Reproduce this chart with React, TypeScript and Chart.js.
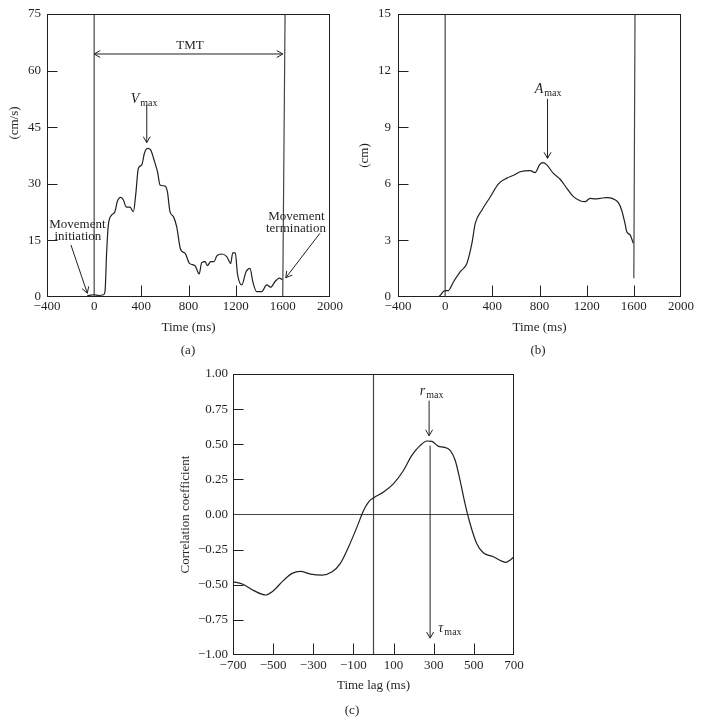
import React, { useEffect, useRef } from "react";
import { Chart, registerables } from "chart.js";

Chart.register(...registerables);

const FONT = "'Liberation Serif', 'Times New Roman', serif";
const INK = "#231f20";
const REF = "#444444";

// ---------- Panel (a): velocity (cm/s) vs time (ms) ----------
const velTime = [-60, -30, 0, 40, 80, 92, 106, 120, 148, 176, 196, 225, 248, 270, 304, 333, 352, 375, 404, 426, 454, 479, 508, 537, 559, 601, 621, 643, 672, 700, 734, 771, 808, 856, 890, 912, 941, 960, 988, 1017, 1040, 1082, 1124, 1158, 1175, 1197, 1215, 1252, 1288, 1322, 1345, 1379, 1421, 1463, 1497, 1534, 1571, 1595];
const velValue = [0.3, 0.5, 0.6, 0.4, 0.6, 1.5, 12, 19, 21.7, 22.6, 25.3, 26.4, 25.7, 23.9, 23.8, 22.6, 27, 34.1, 35, 38.1, 39.4, 39, 36.3, 33.2, 29.7, 29.4, 27.9, 22.6, 21.3, 18.6, 12.5, 11.6, 8.9, 8.3, 6.1, 9.1, 9.4, 8.3, 9.4, 9.4, 10.9, 11.4, 10.7, 8.9, 11.7, 11.7, 6.2, 3.2, 6.7, 7.6, 4.1, 1.4, 1.4, 3.2, 2.6, 4.1, 5.0, 4.6];
const timeTicks = [-400, 0, 400, 800, 1200, 1600, 2000];
const velTicks = [0, 15, 30, 45, 60, 75];
const timeInnerTicks = [400, 800, 1200];
const velInnerTicks = [15, 30, 45, 60];
const aOnsetX = [0, 0];
const aOnsetY = [0, 75];
const aEndX = [1599, 1619];
const aEndY = [0, 75];

// ---------- Panel (b): amplitude (cm) vs time (ms) ----------
const ampTime = [-60, -40, -15, 0, 28, 50, 71, 128, 184, 227, 255, 311, 382, 452, 523, 580, 636, 721, 763, 800, 828, 862, 918, 975, 1032, 1088, 1144, 1186, 1229, 1270, 1314, 1370, 1426, 1469, 1497, 1525, 1540, 1568, 1596];
const ampValue = [0, 0.1, 0.3, 0.34, 0.34, 0.55, 0.81, 1.34, 1.78, 2.85, 3.9, 4.6, 5.3, 6.0, 6.3, 6.45, 6.64, 6.7, 6.59, 7.0, 7.12, 7.0, 6.55, 6.24, 5.76, 5.32, 5.1, 5.05, 5.23, 5.2, 5.23, 5.27, 5.2, 5.0, 4.6, 3.9, 3.46, 3.29, 2.85];
const ampTicks = [0, 3, 6, 9, 12, 15];
const ampInnerTicks = [3, 6, 9, 12];
const timeInnerTicksB = [400, 800, 1200, 1600];
const bOnsetX = [0, 0];
const bOnsetY = [0, 15];
const bEndX = [1600, 1610];
const bEndY = [1.0, 15];

// ---------- Panel (c): correlation coefficient vs time lag ----------
const lagTime = [-700, -654, -596, -538, -505, -447, -405, -364, -314, -256, -206, -165, -124, -82, -49, -24, 0, 50, 100, 150, 191, 233, 266, 291, 324, 348, 382, 407, 431, 456, 481, 514, 547, 597, 639, 660, 680, 700];
const corrValue = [-0.479, -0.495, -0.542, -0.573, -0.55, -0.467, -0.419, -0.405, -0.424, -0.431, -0.408, -0.348, -0.23, -0.088, 0.03, 0.09, 0.118, 0.16, 0.22, 0.315, 0.421, 0.492, 0.523, 0.52, 0.485, 0.48, 0.457, 0.386, 0.244, 0.078, -0.064, -0.206, -0.272, -0.301, -0.332, -0.341, -0.325, -0.301];
const lagTicks = [-700, -500, -300, -100, 100, 300, 500, 700];
const corrTicks = [-1, -0.75, -0.5, -0.25, 0, 0.25, 0.5, 0.75, 1];
const lagInnerTicks = [-500, -300, -100, 100, 300, 500];
const corrInnerTicks = [-0.75, -0.5, -0.25, 0.25, 0.5, 0.75];
const cZeroLineX = [-700, 700];
const cZeroLineY = [0, 0];
const cLagZeroX = [0, 0];
const cLagZeroY = [-1, 1];

// ---------- Annotations (data coordinates) ----------
type TextItem = { x: number; y: number; text: string; sub?: string; italic?: boolean; size?: number };
type ArrowItem = { x1: number; y1: number; x2: number; y2: number; both?: boolean };

const aTexts: TextItem[] = [
  { x: 813, y: 66.8, text: "TMT" },
  { x: 423, y: 52.7, text: "V", sub: "max", italic: true, size: 14 },
  { x: -142, y: 19.5, text: "Movement" },
  { x: -138, y: 16.3, text: "initiation" },
  { x: 1715, y: 21.7, text: "Movement" },
  { x: 1711, y: 18.4, text: "termination" },
];
const aArrows: ArrowItem[] = [
  { x1: 0, y1: 64.4, x2: 1600, y2: 64.4, both: true },
  { x1: 446, y1: 50.9, x2: 446, y2: 40.9 },
  { x1: -197, y1: 13.8, x2: -58, y2: 1.0 },
  { x1: 1915, y1: 16.9, x2: 1625, y2: 5.1 },
];
const bTexts: TextItem[] = [{ x: 873, y: 11.06, text: "A", sub: "max", italic: true, size: 14 }];
const bArrows: ArrowItem[] = [{ x1: 868, y1: 10.5, x2: 868, y2: 7.35 }];
const cTexts: TextItem[] = [
  { x: 290, y: 0.883, text: "r", sub: "max", italic: true, size: 14 },
  { x: 381, y: -0.8, text: "τ", sub: "max", italic: true, size: 14 },
];
const cArrows: ArrowItem[] = [
  { x1: 277, y1: 0.81, x2: 277, y2: 0.56 },
  { x1: 282, y1: 0.49, x2: 282, y2: -0.88 },
];

const pts = (xs: number[], ys: number[]) => xs.map((x, i) => ({ x, y: ys[i] }));
const minus = (s: string) => s.replace("-", "\u2212");

function drawHead(ctx: CanvasRenderingContext2D, x: number, y: number, fx: number, fy: number) {
  const ang = Math.atan2(y - fy, x - fx);
  const L = 7;
  const sp = Math.PI / 6;
  ctx.beginPath();
  ctx.moveTo(x - L * Math.cos(ang - sp), y - L * Math.sin(ang - sp));
  ctx.lineTo(x, y);
  ctx.lineTo(x - L * Math.cos(ang + sp), y - L * Math.sin(ang + sp));
  ctx.stroke();
}

function drawLabel(ctx: CanvasRenderingContext2D, px: number, py: number, t: TextItem) {
  const size = t.size ?? 13;
  const mainFont = `${t.italic ? "italic " : ""}${size}px ${FONT}`;
  const subFont = `${Math.round(size * 0.74)}px ${FONT}`;
  ctx.font = mainFont;
  const w1 = ctx.measureText(t.text).width;
  let w2 = 0;
  if (t.sub) {
    ctx.font = subFont;
    w2 = ctx.measureText(t.sub).width + 1;
  }
  const start = px - (w1 + w2) / 2;
  const base = py + size * 0.35;
  ctx.textAlign = "left";
  ctx.textBaseline = "alphabetic";
  ctx.font = mainFont;
  ctx.fillText(t.text, start, base);
  if (t.sub) {
    ctx.font = subFont;
    ctx.fillText(t.sub, start + w1 + 1, base + 3);
  }
}

function makeAnno(texts: TextItem[], arrows: ArrowItem[], innerX: number[], innerY: number[], yTitle?: { text: string; x: number; y: number }) {
  return {
    id: "anno",
    afterDatasetsDraw(chart: any) {
      const { ctx, chartArea: a } = chart;
      const xs = chart.scales.x;
      const ys = chart.scales.y;
      ctx.save();
      ctx.strokeStyle = INK;
      ctx.fillStyle = INK;
      ctx.lineWidth = 1;
      // frame
      const l = Math.round(a.left) + 0.5;
      const r = Math.round(a.right) - 0.5;
      const tp = Math.round(a.top) + 0.5;
      const b = Math.round(a.bottom) - 0.5;
      ctx.strokeRect(l, tp, r - l, b - tp);
      // inward ticks
      ctx.beginPath();
      innerX.forEach((v) => {
        const x = Math.round(xs.getPixelForValue(v)) + 0.5;
        ctx.moveTo(x, b);
        ctx.lineTo(x, b - 11);
      });
      innerY.forEach((v) => {
        const y = Math.round(ys.getPixelForValue(v)) + 0.5;
        ctx.moveTo(l, y);
        ctx.lineTo(l + 10, y);
      });
      ctx.stroke();
      // arrows
      arrows.forEach((ar) => {
        const x1 = xs.getPixelForValue(ar.x1);
        const y1 = ys.getPixelForValue(ar.y1);
        const x2 = xs.getPixelForValue(ar.x2);
        const y2 = ys.getPixelForValue(ar.y2);
        ctx.beginPath();
        ctx.moveTo(x1, y1);
        ctx.lineTo(x2, y2);
        ctx.stroke();
        drawHead(ctx, x2, y2, x1, y1);
        if (ar.both) drawHead(ctx, x1, y1, x2, y2);
      });
      // texts
      texts.forEach((t) => drawLabel(ctx, xs.getPixelForValue(t.x), ys.getPixelForValue(t.y), t));
      if (yTitle) {
        ctx.save();
        ctx.translate(yTitle.x, yTitle.y);
        ctx.rotate(-Math.PI / 2);
        ctx.font = `13px ${FONT}`;
        ctx.textAlign = "center";
        ctx.textBaseline = "middle";
        ctx.fillText(yTitle.text, 0, 0);
        ctx.restore();
      }
      ctx.restore();
    },
  };
}

type Spec = {
  width: number;
  height: number;
  padTop: number;
  padRight: number;
  yWidth: number;
  xHeight: number;
  xMin: number;
  xMax: number;
  yMin: number;
  yMax: number;
  xTicks: number[];
  yTicks: number[];
  yFmt: (v: number) => string;
  xTitle: string;
  xTitlePad: number;
  xTickPad: number;
  yTitle?: string;
  yTitlePad?: number;
  yTickPad: number;
  datasets: any[];
  plugin: any;
};

function makeConfig(s: Spec): any {
  const font = { family: FONT, size: 13 };
  return {
    type: "line",
    data: { datasets: s.datasets },
    options: {
      responsive: false,
      animation: false,
      events: [],
      layout: { padding: { left: 0, top: s.padTop, right: s.padRight, bottom: 0 } },
      plugins: { legend: { display: false }, tooltip: { enabled: false } },
      elements: { point: { radius: 0 } },
      scales: {
        x: {
          type: "linear",
          min: s.xMin,
          max: s.xMax,
          afterBuildTicks: (sc: any) => {
            sc.ticks = s.xTicks.map((v) => ({ value: v }));
          },
          afterFit: (sc: any) => {
            sc.height = s.xHeight;
            sc.paddingLeft = 0;
            sc.paddingRight = 0;
            sc.paddingTop = 0;
            sc.paddingBottom = 0;
          },
          grid: { display: false, drawTicks: false },
          border: { display: false },
          ticks: {
            font,
            color: INK,
            padding: s.xTickPad,
            autoSkip: false,
            maxRotation: 0,
            minRotation: 0,
            callback: (v: number) => minus(String(v)),
          },
          title: { display: true, text: s.xTitle, font, color: INK, padding: { top: 0, bottom: s.xTitlePad } },
        },
        y: {
          type: "linear",
          min: s.yMin,
          max: s.yMax,
          afterBuildTicks: (sc: any) => {
            sc.ticks = s.yTicks.map((v) => ({ value: v }));
          },
          afterFit: (sc: any) => {
            sc.width = s.yWidth;
            sc.paddingLeft = 0;
            sc.paddingRight = 0;
            sc.paddingTop = 0;
            sc.paddingBottom = 0;
          },
          grid: { display: false, drawTicks: false },
          border: { display: false },
          ticks: {
            font,
            color: INK,
            padding: s.yTickPad,
            autoSkip: false,
            callback: (v: number) => minus(s.yFmt(v)),
          },
          title: {
            display: !!s.yTitle,
            text: s.yTitle || "",
            font,
            color: INK,
            padding: { top: s.yTitlePad ?? 0, bottom: 0 },
          },
        },
      },
    },
    plugins: [s.plugin],
  };
}

const curve = (data: any[]) => ({
  data,
  borderColor: INK,
  borderWidth: 1.2,
  pointRadius: 0,
  fill: false,
  cubicInterpolationMode: "monotone",
});
const refLine = (data: any[]) => ({
  data,
  borderColor: REF,
  borderWidth: 1.2,
  pointRadius: 0,
  fill: false,
  tension: 0,
});

function Panel({ left, top, spec }: { left: number; top: number; spec: () => Spec }) {
  const ref = useRef<HTMLCanvasElement | null>(null);
  const s0 = spec();
  useEffect(() => {
    const chart = new Chart(ref.current as HTMLCanvasElement, makeConfig(spec()));
    return () => chart.destroy();
  }, []);
  return (
    <canvas
      ref={ref}
      width={s0.width}
      height={s0.height}
      style={{ position: "absolute", left, top, width: s0.width, height: s0.height }}
    />
  );
}

const specA = (): Spec => ({
  width: 350,
  height: 345,
  padTop: 14,
  padRight: 20,
  yWidth: 47,
  xHeight: 48,
  xMin: -400,
  xMax: 2000,
  yMin: 0,
  yMax: 75,
  xTicks: timeTicks,
  yTicks: velTicks,
  yFmt: (v) => String(v),
  xTitle: "Time (ms)",
  xTitlePad: 10,
  xTickPad: 2,
  yTickPad: 6,
  datasets: [curve(pts(velTime, velValue)), refLine(pts(aOnsetX, aOnsetY)), refLine(pts(aEndX, aEndY))],
  plugin: makeAnno(aTexts, aArrows, timeInnerTicks, velInnerTicks, { text: "(cm/s)", x: 15, y: 123 }),
});

const specB = (): Spec => ({
  width: 352,
  height: 345,
  padTop: 14,
  padRight: 21,
  yWidth: 48,
  xHeight: 48,
  xMin: -400,
  xMax: 2000,
  yMin: 0,
  yMax: 15,
  xTicks: timeTicks,
  yTicks: ampTicks,
  yFmt: (v) => String(v),
  xTitle: "Time (ms)",
  xTitlePad: 10,
  xTickPad: 2,
  yTitle: "(cm)",
  yTitlePad: 7,
  yTickPad: 7,
  datasets: [curve(pts(ampTime, ampValue)), refLine(pts(bOnsetX, bOnsetY)), refLine(pts(bEndX, bEndY))],
  plugin: makeAnno(bTexts, bArrows, timeInnerTicksB, ampInnerTicks),
});

const specC = (): Spec => ({
  width: 380,
  height: 345,
  padTop: 14,
  padRight: 26,
  yWidth: 73,
  xHeight: 50,
  xMin: -700,
  xMax: 700,
  yMin: -1,
  yMax: 1,
  xTicks: lagTicks,
  yTicks: corrTicks,
  yFmt: (v) => v.toFixed(2),
  xTitle: "Time lag (ms)",
  xTitlePad: 12,
  xTickPad: 3,
  yTitle: "Correlation coefficient",
  yTitlePad: 18,
  yTickPad: 5,
  datasets: [curve(pts(lagTime, corrValue)), refLine(pts(cZeroLineX, cZeroLineY)), refLine(pts(cLagZeroX, cLagZeroY))],
  plugin: makeAnno(cTexts, cArrows, lagInnerTicks, corrInnerTicks),
});

const labelStyle = (x: number, y: number): React.CSSProperties => ({
  position: "absolute",
  left: x,
  top: y,
  transform: "translate(-50%, -50%)",
  font: `13px ${FONT}`,
  color: INK,
  whiteSpace: "nowrap",
});

export default function App() {
  return (
    <div style={{ position: "absolute", left: 0, top: 0, width: 702, height: 724, background: "#fff", overflow: "hidden" }}>
      <Panel left={0} top={0} spec={specA} />
      <Panel left={350} top={0} spec={specB} />
      <Panel left={160} top={360} spec={specC} />
      <div style={labelStyle(188, 350)}>(a)</div>
      <div style={labelStyle(538, 350)}>(b)</div>
      <div style={labelStyle(352, 710)}>(c)</div>
    </div>
  );
}
